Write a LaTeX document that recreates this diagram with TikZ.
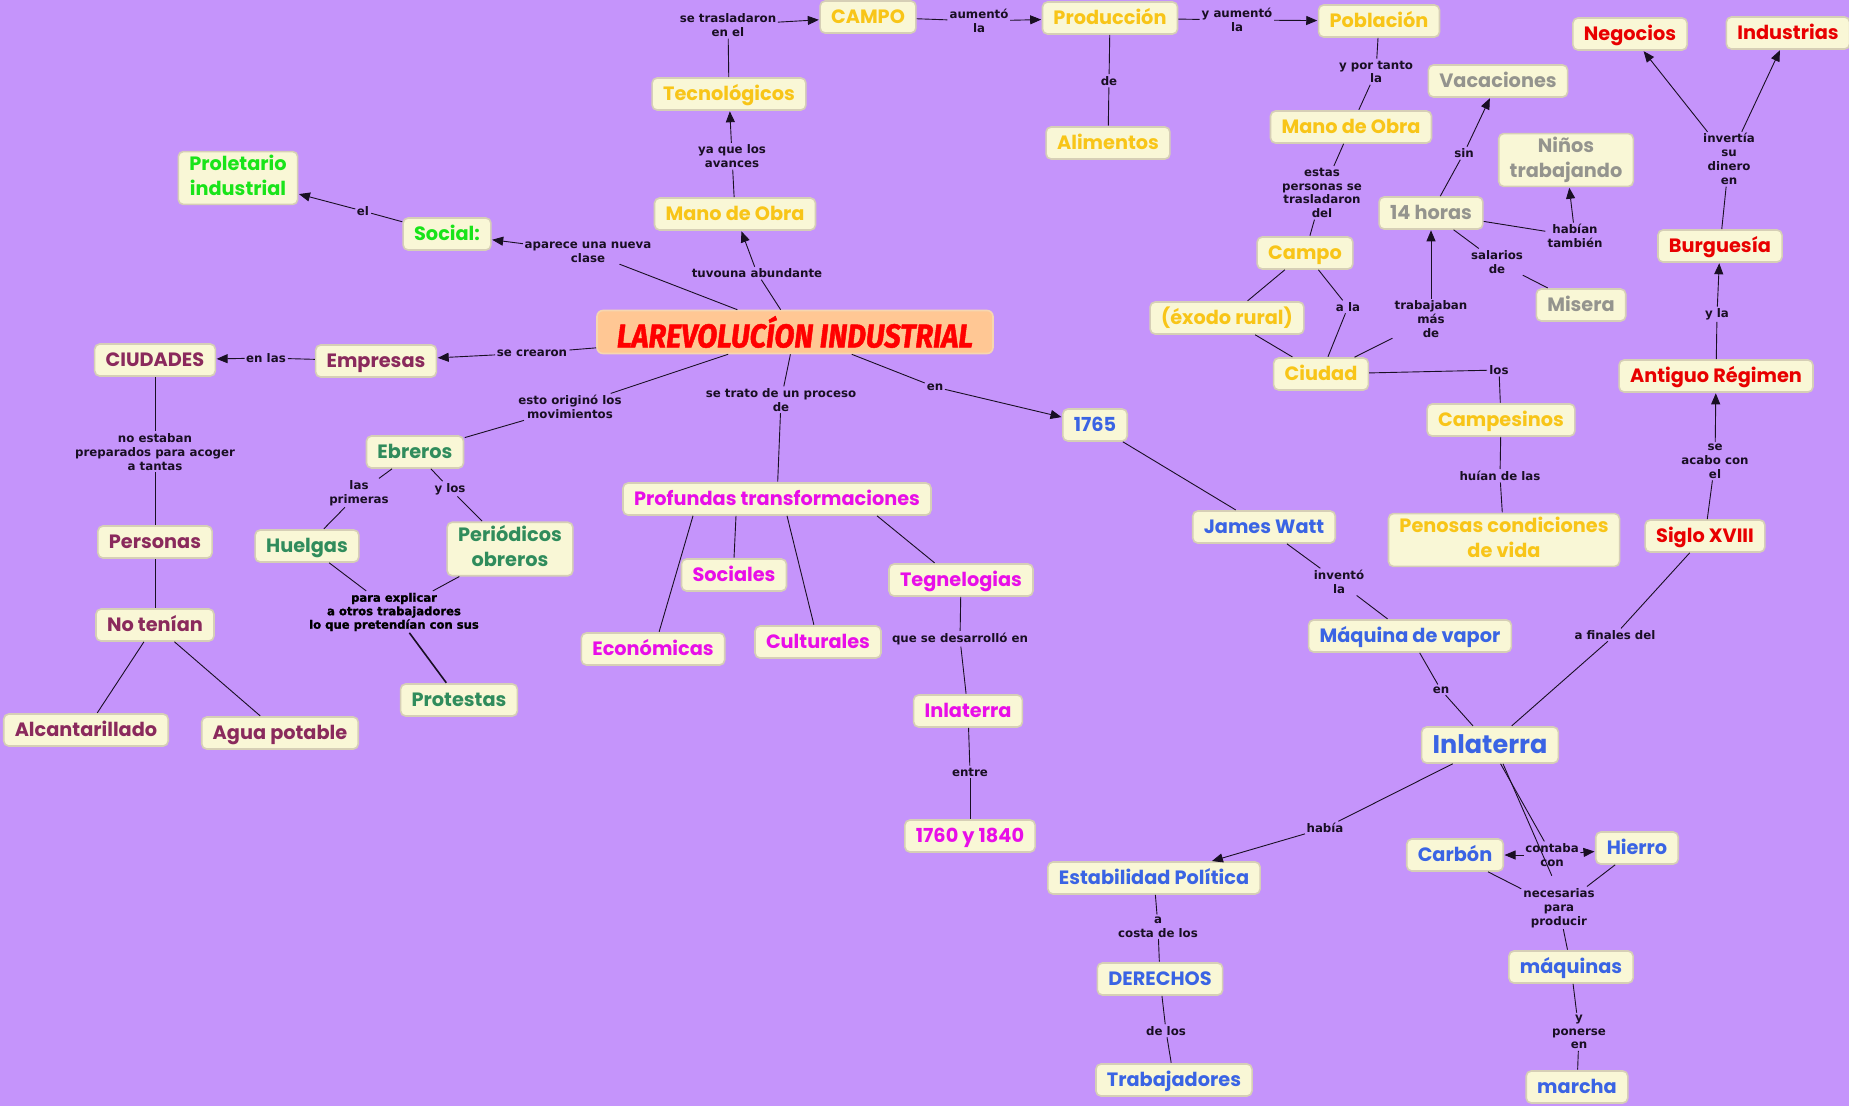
\documentclass[tikz,border=0pt]{standalone}
\usepackage{fontspec}
\setmainfont{Poppins}
\newfontfamily\lblfont{DejaVu Sans}
\newfontfamily\heavyfont[FakeBold=1.6]{DejaVu Sans}
\newfontfamily\ttlfont[FakeStretch=0.88,FakeBold=1.4]{Fira Sans}
\usepackage{tikz}
\usetikzlibrary{arrows.meta}

\definecolor{bgpurple}{RGB}{197,148,251}
\definecolor{ccream}{RGB}{249,247,214}
\definecolor{cborder}{RGB}{214,207,182}
\definecolor{ctitle}{RGB}{255,199,148}
\definecolor{ctitleb}{RGB}{246,214,176}
\definecolor{clink}{RGB}{25,15,35}
\definecolor{cgold}{RGB}{248,197,24}
\definecolor{cgrey}{RGB}{148,148,142}
\definecolor{cred}{RGB}{232,0,0}
\definecolor{clime}{RGB}{25,228,25}
\definecolor{cmaroon}{RGB}{138,42,92}
\definecolor{cteal}{RGB}{48,140,92}
\definecolor{cmagenta}{RGB}{232,14,232}
\definecolor{cblue}{RGB}{58,100,228}

\newcommand{\cfont}{\fontsize{19.3}{25}\selectfont\bfseries}
\newcommand{\lfont}{\lblfont\fontsize{11.8}{13.8}\selectfont\bfseries}
\newcommand{\cstrutA}{\rule{0pt}{18.6pt}}
\newcommand{\cstrutB}{\rule[-5.4pt]{0pt}{5.4pt}}
\newcommand{\bigstrutA}{\rule{0pt}{23pt}}
\newcommand{\bigstrutB}{\rule[-6pt]{0pt}{6pt}}

\begin{document}
\begin{tikzpicture}[x=1pt,y=-1pt,>={Triangle[length=11pt,width=9pt]},shorten >=0.5pt]
  \tikzstyle{concept}=[draw=cborder,line width=1.6pt,fill=ccream,rounded corners=5pt,
                       inner xsep=11pt,inner ysep=3.5pt,minimum height=32pt,align=center,
                       font=\cfont,execute at begin node=\cstrutA,execute at end node=\cstrutB]
  \tikzstyle{gold}=[concept,text=cgold]
  \tikzstyle{grey}=[concept,text=cgrey]
  \tikzstyle{redc}=[concept,text=cred]
  \tikzstyle{lime}=[concept,text=clime]
  \tikzstyle{maroon}=[concept,text=cmaroon]
  \tikzstyle{teal}=[concept,text=cteal]
  \tikzstyle{magen}=[concept,text=cmagenta]
  \tikzstyle{blue}=[concept,text=cblue]
  \tikzstyle{lbl}=[inner sep=1.5pt,align=center,font=\lfont,text=clink]
  \tikzstyle{every edge}=[draw=clink,line width=0.9pt]

  \fill[bgpurple] (0,0) rectangle (1849,1106);
  \useasboundingbox (0,0) rectangle (1849,1106);

  % main node
  \node[draw=ctitleb,line width=1.6pt,fill=ctitle,rounded corners=6pt,text=red,
        minimum width=396pt,minimum height=43pt,inner sep=0pt,
        font=\ttlfont\fontsize{33}{33}\selectfont\bfseries\itshape] (rev) at (795,332)
        {LAREVOLUCÍON INDUSTRIAL};

  % yellow branch
  \node[gold] (campo) at (868,17) {CAMPO};
  \node[gold] (prod) at (1110,18) {Producción};
  \node[gold] (pobl) at (1379,21) {Población};
  \node[gold] (alim) at (1108,143) {Alimentos};
  \node[gold] (tecno) at (729,94) {Tecnológicos};
  \node[gold] (mano) at (735,214) {Mano de Obra};
  \node[gold] (manob) at (1351,127) {Mano de Obra};
  \node[gold] (campob) at (1305,253) {Campo};
  \node[gold] (exodo) at (1227,318) {(éxodo rural)};
  \node[gold] (ciudad) at (1321,374) {Ciudad};
  \node[gold] (campes) at (1501,420) {Campesinos};
  \node[gold] (penosas) at (1504,540) {Penosas condiciones\\de vida};

  \node[grey] (vacac) at (1498,81) {Vacaciones};
  \node[grey] (ninos) at (1566,160) {Niños\\trabajando};
  \node[grey] (horas) at (1431,213) {14 horas};
  \node[grey] (misera) at (1581,305) {Misera};

  \node[redc] (negoc) at (1630,34) {Negocios};
  \node[redc] (indus) at (1788,33) {Industrias};
  \node[redc] (burgu) at (1720,246) {Burguesía};
  \node[redc] (antig) at (1716,376) {Antiguo Régimen};
  \node[redc] (siglo) at (1705,536) {Siglo XVIII};

  \node[lime] (prolet) at (238,178) {Proletario\\industrial};
  \node[lime] (social) at (447,234) {Social:};

  \node[maroon] (ciudades) at (155,360) {CIUDADES};
  \node[maroon] (empresas) at (376,361) {Empresas};
  \node[maroon] (personas) at (155,542) {Personas};
  \node[maroon] (notenian) at (155,625) {No tenían};
  \node[maroon] (alcant) at (86,730) {Alcantarillado};
  \node[maroon] (agua) at (280,733) {Agua potable};

  \node[teal] (ebreros) at (415,452) {Ebreros};
  \node[teal] (huelgas) at (307,546) {Huelgas};
  \node[teal] (periodicos) at (510,549) {Periódicos\\obreros};
  \node[teal] (protestas) at (459,700) {Protestas};

  \node[magen] (prof) at (777,499) {Profundas transformaciones};
  \node[magen] (sociales) at (734,575) {Sociales};
  \node[magen] (econ) at (653,649) {Económicas};
  \node[magen] (cultur) at (818,642) {Culturales};
  \node[magen] (tegne) at (961,580) {Tegnelogias};
  \node[magen] (ingm) at (968,711) {Inlaterra};
  \node[magen] (fechas) at (970,836) {1760 y 1840};

  \node[blue] (anio) at (1095,425) {1765};
  \node[blue] (watt) at (1264,527) {James Watt};
  \node[blue] (vapor) at (1410,636) {Máquina de vapor};
  \node[blue,font=\fontsize{25.5}{30}\selectfont\bfseries,
        execute at begin node=\bigstrutA,execute at end node=\bigstrutB]
        (ingb) at (1490,745) {Inlaterra};
  \node[blue] (estab) at (1154,878) {Estabilidad Política};
  \node[blue] (derechos) at (1160,979) {DERECHOS};
  \node[blue] (trabaj) at (1174,1080) {Trabajadores};
  \node[blue] (carbon) at (1455,855) {Carbón};
  \node[blue] (hierro) at (1637,848) {Hierro};
  \node[blue] (maquinas) at (1571,967) {máquinas};
  \node[blue] (marcha) at (1577,1087) {marcha};

  % linking phrases
  \node[lbl] (ltras) at (728,25) {se trasladaron\\en el};
  \node[lbl] (laum) at (979,21) {aumentó\\la};
  \node[lbl] (lyaum) at (1237,20) {y aumentó\\la};
  \node[lbl] (lde) at (1109,81) {de};
  \node[lbl] (lavan) at (732,156) {ya que los\\avances};
  \node[lbl] (ltuvo) at (757,273) {tuvouna abundante};
  \node[lbl] (lclase) at (588,252) {aparece una nueva\\clase};
  \node[lbl] (lel) at (363,211) {el};
  \node[lbl] (lcrea) at (532,353) {se crearon};
  \node[lbl] (lenlas) at (266,358) {en las};
  \node[lbl] (lnoest) at (155,452) {no estaban\\preparados para acoger\\a tantas};
  \node[lbl] (lorig) at (570,407) {esto originó los\\movimientos};
  \node[lbl] (lprim) at (359,493) {las\\primeras};
  \node[lbl] (lylos) at (450,489) {y los};
  \node[lbl,font=\heavyfont\fontsize{11.6}{13.5}\selectfont\bfseries,text=black] (lexpl) at (394,612)
       {para explicar\\a otros trabajadores\\lo que pretendían con sus};
  \node[lbl] (lproc) at (781,400) {se trato de un proceso\\de};
  \node[lbl] (lenA) at (935,387) {en};
  \node[lbl] (ldesa) at (960,639) {que se desarrolló en};
  \node[lbl] (lentre) at (970,772) {entre};
  \node[lbl] (ltanto) at (1376,72) {y por tanto\\la};
  \node[lbl] (lestas) at (1322,193) {estas\\personas se\\trasladaron\\del};
  \node[lbl] (lsin) at (1464,153) {sin};
  \node[lbl] (lala) at (1348,307) {a la};
  \node[lbl] (ltrab) at (1431,319) {trabajaban\\más\\de};
  \node[lbl] (lhab) at (1575,236) {habían\\también};
  \node[lbl] (lsal) at (1497,262) {salarios\\de};
  \node[lbl] (llos) at (1499,370) {los};
  \node[lbl] (lhuian) at (1500,476) {huían de las};
  \node[lbl] (linv) at (1339,582) {inventó\\la};
  \node[lbl] (lenB) at (1441,690) {en};
  \node[lbl] (lfin) at (1615,635) {a finales del};
  \node[lbl] (lacabo) at (1715,461) {se\\acabo con\\el};
  \node[lbl] (lyla) at (1717,314) {y la};
  \node[lbl] (linvert) at (1729,159) {invertía\\su\\dinero\\en};
  \node[lbl] (lhabia) at (1325,828) {había};
  \node[lbl] (lcosta) at (1158,927) {a\\costa de los};
  \node[lbl] (ldelos) at (1166,1031) {de los};
  \node[lbl] (lcont) at (1552,855) {contaba\\con};
  \node[lbl] (lnec) at (1559,908) {necesarias\\para\\producir};
  \node[lbl] (lpon) at (1579,1032) {y\\ponerse\\en};

  % connectors
  \path (rev) edge (ltuvo)
        (ltuvo) edge[->] (mano)
        (mano) edge (lavan)
        (lavan) edge[->] (tecno)
        (tecno) edge (ltras)
        (ltras) edge[->] (campo)
        (campo) edge (laum)
        (laum) edge[->] (prod)
        (prod) edge (lde)
        (lde) edge (alim)
        (prod) edge (lyaum)
        (lyaum) edge[->] (pobl)
        (pobl) edge (ltanto)
        (ltanto) edge (manob)
        (manob) edge (lestas)
        (lestas) edge (campob)
        (campob) edge (exodo)
        (exodo) edge (ciudad)
        (campob) edge (lala)
        (lala) edge (ciudad)
        (ciudad) edge (ltrab)
        (ltrab) edge[->] (horas)
        (horas) edge (lsin)
        (lsin) edge[->] (vacac)
        (horas) edge (lhab)
        (lhab) edge[->] (ninos)
        (horas) edge (lsal)
        (lsal) edge (misera)
        (ciudad) edge (llos)
        (llos) edge (campes)
        (campes) edge (lhuian)
        (lhuian) edge (penosas);

  \path (rev) edge (lclase)
        (lclase) edge[->] (social)
        (social) edge (lel)
        (lel) edge[->] (prolet)
        (rev) edge (lcrea)
        (lcrea) edge[->] (empresas)
        (empresas) edge (lenlas)
        (lenlas) edge[->] (ciudades)
        (ciudades) edge (lnoest)
        (lnoest) edge (personas)
        (personas) edge (notenian)
        (notenian) edge (alcant)
        (notenian) edge (agua)
        (rev) edge (lorig)
        (lorig) edge (ebreros)
        (ebreros) edge (lprim)
        (lprim) edge (huelgas)
        (ebreros) edge (lylos)
        (lylos) edge (periodicos)
        (huelgas) edge (lexpl)
        (periodicos) edge (lexpl)
        (lexpl) edge[line width=1.6pt] (protestas);

  \path (rev) edge (lproc)
        (lproc) edge (prof)
        ([xshift=-84pt]prof.south) edge ([xshift=6pt]econ.north)
        ([xshift=-41pt]prof.south) edge (sociales.north)
        ([xshift=10pt]prof.south) edge ([xshift=-4pt]cultur.north)
        ([xshift=100pt]prof.south) edge ([xshift=-26pt]tegne.north)
        (tegne) edge (ldesa)
        (ldesa) edge (ingm)
        (ingm) edge (lentre)
        (lentre) edge (fechas);

  \path (rev) edge (lenA)
        (lenA) edge[->] (anio)
        (anio) edge (watt)
        (watt) edge (linv)
        (linv) edge (vapor)
        (vapor) edge (lenB)
        (lenB) edge (ingb)
        (siglo) edge (lfin)
        (lfin) edge (ingb)
        (siglo) edge (lacabo)
        (lacabo) edge[->] (antig)
        (antig) edge (lyla)
        (lyla) edge[->] (burgu)
        (burgu) edge (linvert)
        (linvert) edge[->] (negoc)
        (linvert) edge[->] (indus)
        (ingb) edge (lhabia)
        (lhabia) edge[->] (estab)
        (estab) edge (lcosta)
        (lcosta) edge (derechos)
        (derechos) edge (ldelos)
        (ldelos) edge (trabaj)
        (ingb) edge (lcont)
        ([xshift=13pt]ingb.south) edge ([yshift=-8pt]lcont.south)
        (lcont) edge[->] (carbon)
        (lcont) edge[->] (hierro)
        (carbon) edge (lnec)
        (hierro) edge (lnec)
        (lnec) edge (maquinas)
        (maquinas) edge (lpon)
        (lpon) edge (marcha);
\end{tikzpicture}
\end{document}
